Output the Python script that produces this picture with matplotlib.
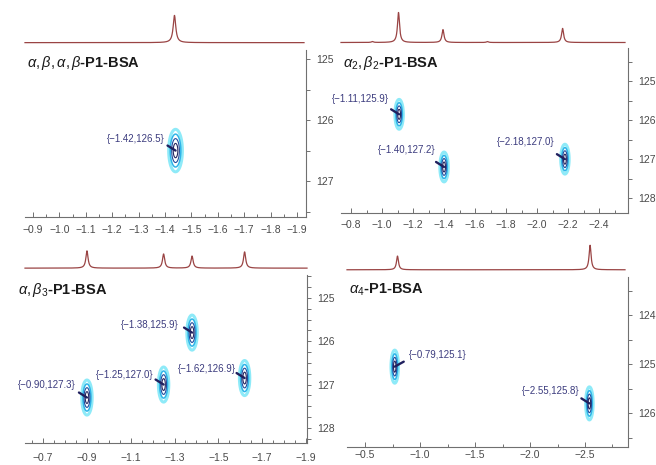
import numpy as np
import matplotlib
matplotlib.use('Agg')
import matplotlib.pyplot as plt
from matplotlib.ticker import MultipleLocator, FuncFormatter

plt.rcParams['font.family'] = ['Liberation Sans', 'DejaVu Sans']
plt.rcParams['mathtext.fontset'] = 'custom'
plt.rcParams['mathtext.rm'] = 'Liberation Sans'
plt.rcParams['mathtext.it'] = 'Liberation Sans:italic'
plt.rcParams['mathtext.bf'] = 'Liberation Sans:bold'

# ---- data: 1H shift, 13C shift, peak labels ----
titles = [r'$\alpha,\beta,\alpha,\beta$-P1-BSA', r'$\alpha_2,\beta_2$-P1-BSA',
          r'$\alpha,\beta_3$-P1-BSA', r'$\alpha_4$-P1-BSA']

p1_h = [-1.44]
p1_c = [126.5]
p1_labels = ['{−1.42,126.5}']

p2_h = [-1.11, -1.40, -2.18]
p2_c = [125.85, 127.2, 127.0]
p2_labels = ['{−1.11,125.9}', '{−1.40,127.2}', '{−2.18,127.0}']

p3_h = [-0.90, -1.25, -1.38, -1.62]
p3_c = [127.3, 127.0, 125.8, 126.85]
p3_labels = ['{−0.90,127.3}', '{−1.25,127.0}', '{−1.38,125.9}', '{−1.62,126.9}']

p4_h = [-0.77, -2.54]
p4_c = [125.05, 125.8]
p4_labels = ['{−0.79,125.1}', '{−2.55,125.8}']

# 1D projections (position, relative height)
t1_x = [-1.44]
t1_y = [1.0]
t2_x = [-0.94, -1.11, -1.40, -1.69, -2.18]
t2_y = [0.03, 1.0, 0.43, 0.03, 0.47]
t3_x = [-0.90, -1.25, -1.38, -1.62]
t3_y = [1.0, 0.82, 0.70, 0.94]
t4_x = [-0.80, -2.57]
t4_y = [0.56, 1.0]

W, H = 656, 465
fig = plt.figure(figsize=(W / 100, H / 100), dpi=100)


def rect(l, t, r, b):
    return [l / W, 1 - b / H, (r - l) / W, (b - t) / H]


def fmt1(v, pos):
    return f'{v:.1f}'.replace('-', '\u2212')


def fmt0(v, pos):
    return f'{v:.0f}'


navy = '#20205e'
lab_col = '#3c3c7e'
tick_col = '#4a4a4a'
spine_col = '#707070'

panels = [
    dict(h=p1_h, c=p1_c, labels=p1_labels, tx=t1_x, ty=t1_y, title=titles[0],
         main=(25, 50, 306, 217), trace=(25, 14, 304, 44),
         xlim=(-0.870, -1.934), ylim=(127.59, 124.85),
         xmaj=(0.1, 0.0), xmin=0.05, ymaj=1, ymin=0.5,
         sig=(0.0115, 0.155), tw=0.006, xpad=6,
         off=[(-11, 12, 'right', (-8, 5))],
         title_xy=(27, 63)),
    dict(h=p2_h, c=p2_c, labels=p2_labels, tx=t2_x, ty=t2_y, title=titles[1],
         main=(341, 48, 628, 213), trace=(341, 11, 625, 44),
         xlim=(-0.735, -2.587), ylim=(128.38, 124.15),
         xmaj=(0.2, 0.0), xmin=0.1, ymaj=1, ymin=0.5,
         sig=(0.012, 0.17), tw=0.008, xpad=5,
         off=[(-10, 15, 'right', (-8, 5)), (-9, 17, 'right', (-8, 5)),
              (-10, 17, 'right', (-8, 5))],
         title_xy=(343, 63)),
    dict(h=p3_h, c=p3_c, labels=p3_labels, tx=t3_x, ty=t3_y, title=titles[2],
         main=(25, 275, 307, 443), trace=(25, 250, 307, 269),
         xlim=(-0.617, -1.905), ylim=(128.35, 124.47),
         xmaj=(0.2, 0.1), xmin=0.05, ymaj=1, ymin=0.25,
         sig=(0.0105, 0.18), tw=0.006, xpad=7,
         off=[(-11, 13, 'right', (-8, 5)), (-10, 10, 'right', (-8, 5)),
              (-13, 8, 'right', (-8, 5)), (-9, 9, 'right', (-8, 5))],
         title_xy=(18, 290)),
    dict(h=p4_h, c=p4_c, labels=p4_labels, tx=t4_x, ty=t4_y, title=titles[3],
         main=(347, 277, 628, 447), trace=(347, 244, 625, 271),
         xlim=(-0.336, -2.891), ylim=(126.69, 123.22),
         xmaj=(0.5, 0.0), xmin=0.25, ymaj=1, ymin=0.5,
         sig=(0.015, 0.15), tw=0.011, xpad=2,
         off=[(14, 12, 'left', (9, 5)), (-10, 12, 'right', (-8, 5))],
         title_xy=(349, 290)),
]

levels = [0.08, 0.22, 0.45, 0.75]
cont_cols = ['#8eeaf8', '#2fb4e8', '#1f4b9c', '#262660']
cont_lw = [2.2, 1.1, 0.8, 0.8]

for p in panels:
    ax = fig.add_axes(rect(*p['main']))
    ax.set_xlim(p['xlim'])
    ax.set_ylim(p['ylim'])

    # 2D cross peaks as contours
    gx = np.linspace(p['xlim'][0], p['xlim'][1], 700)
    gy = np.linspace(p['ylim'][1], p['ylim'][0], 700)
    X, Y = np.meshgrid(gx, gy)
    Z = np.zeros_like(X)
    sx, sy = p['sig']
    for hx, cy in zip(p['h'], p['c']):
        Z += np.exp(-((X - hx) ** 2) / (2 * sx ** 2) - ((Y - cy) ** 2) / (2 * sy ** 2))
    ax.contour(X, Y, Z, levels=levels, colors=cont_cols, linewidths=cont_lw)

    # peak pick markers and labels
    for hx, cy, lab, (dx, dy, ha, mk) in zip(p['h'], p['c'], p['labels'], p['off']):
        ax.annotate('', xy=(hx, cy), xytext=mk, textcoords='offset pixels',
                    arrowprops=dict(arrowstyle='-', color=navy, lw=1.7,
                                    shrinkA=0, shrinkB=0))
        ax.annotate(lab, xy=(hx, cy), xytext=(dx, dy), textcoords='offset pixels',
                    ha=ha, va='center', fontsize=7, color=lab_col)

    ax.text(p['title_xy'][0] / W, 1 - p['title_xy'][1] / H, p['title'],
            transform=fig.transFigure, fontsize=10.5, fontweight='bold',
            color='#1a1a1a', ha='left', va='center')

    for s in ['top', 'left']:
        ax.spines[s].set_visible(False)
    for s in ['right', 'bottom']:
        ax.spines[s].set_color(spine_col)
        ax.spines[s].set_linewidth(0.8)
    ax.yaxis.tick_right()
    ax.xaxis.set_major_locator(MultipleLocator(p['xmaj'][0], offset=p['xmaj'][1]))
    ax.xaxis.set_minor_locator(MultipleLocator(p['xmin']))
    ax.xaxis.set_major_formatter(FuncFormatter(fmt1))
    ax.yaxis.set_major_locator(MultipleLocator(p['ymaj']))
    ax.yaxis.set_minor_locator(MultipleLocator(p['ymin']))
    ax.yaxis.set_major_formatter(FuncFormatter(fmt0))
    ax.tick_params(axis='x', which='both', direction='in', colors=spine_col,
                   labelcolor=tick_col, labelsize=7.5, pad=p['xpad'], width=0.7)
    ax.tick_params(axis='x', which='major', length=3.5)
    ax.tick_params(axis='x', which='minor', length=2)
    ax.tick_params(axis='y', which='both', direction='out', colors=spine_col,
                   labelcolor=tick_col, labelsize=7.5, pad=4, width=0.7, length=3)
    ax.patch.set_alpha(0)

    # 1D projection on top
    tax = fig.add_axes(rect(*p['trace']))
    xs = np.linspace(p['xlim'][0], p['xlim'][1], 4000)
    ys = np.zeros_like(xs)
    for x0, h0 in zip(p['tx'], p['ty']):
        ys += h0 / (1 + ((xs - x0) / p['tw']) ** 2)
    tax.plot(xs, ys, color='#9a4444', lw=0.9, clip_on=False)
    tax.set_xlim(p['xlim'][0], p['xlim'][1])
    tax.set_ylim(-0.05, 1.05)
    tax.axis('off')

fig.savefig('out.png', dpi=100)
